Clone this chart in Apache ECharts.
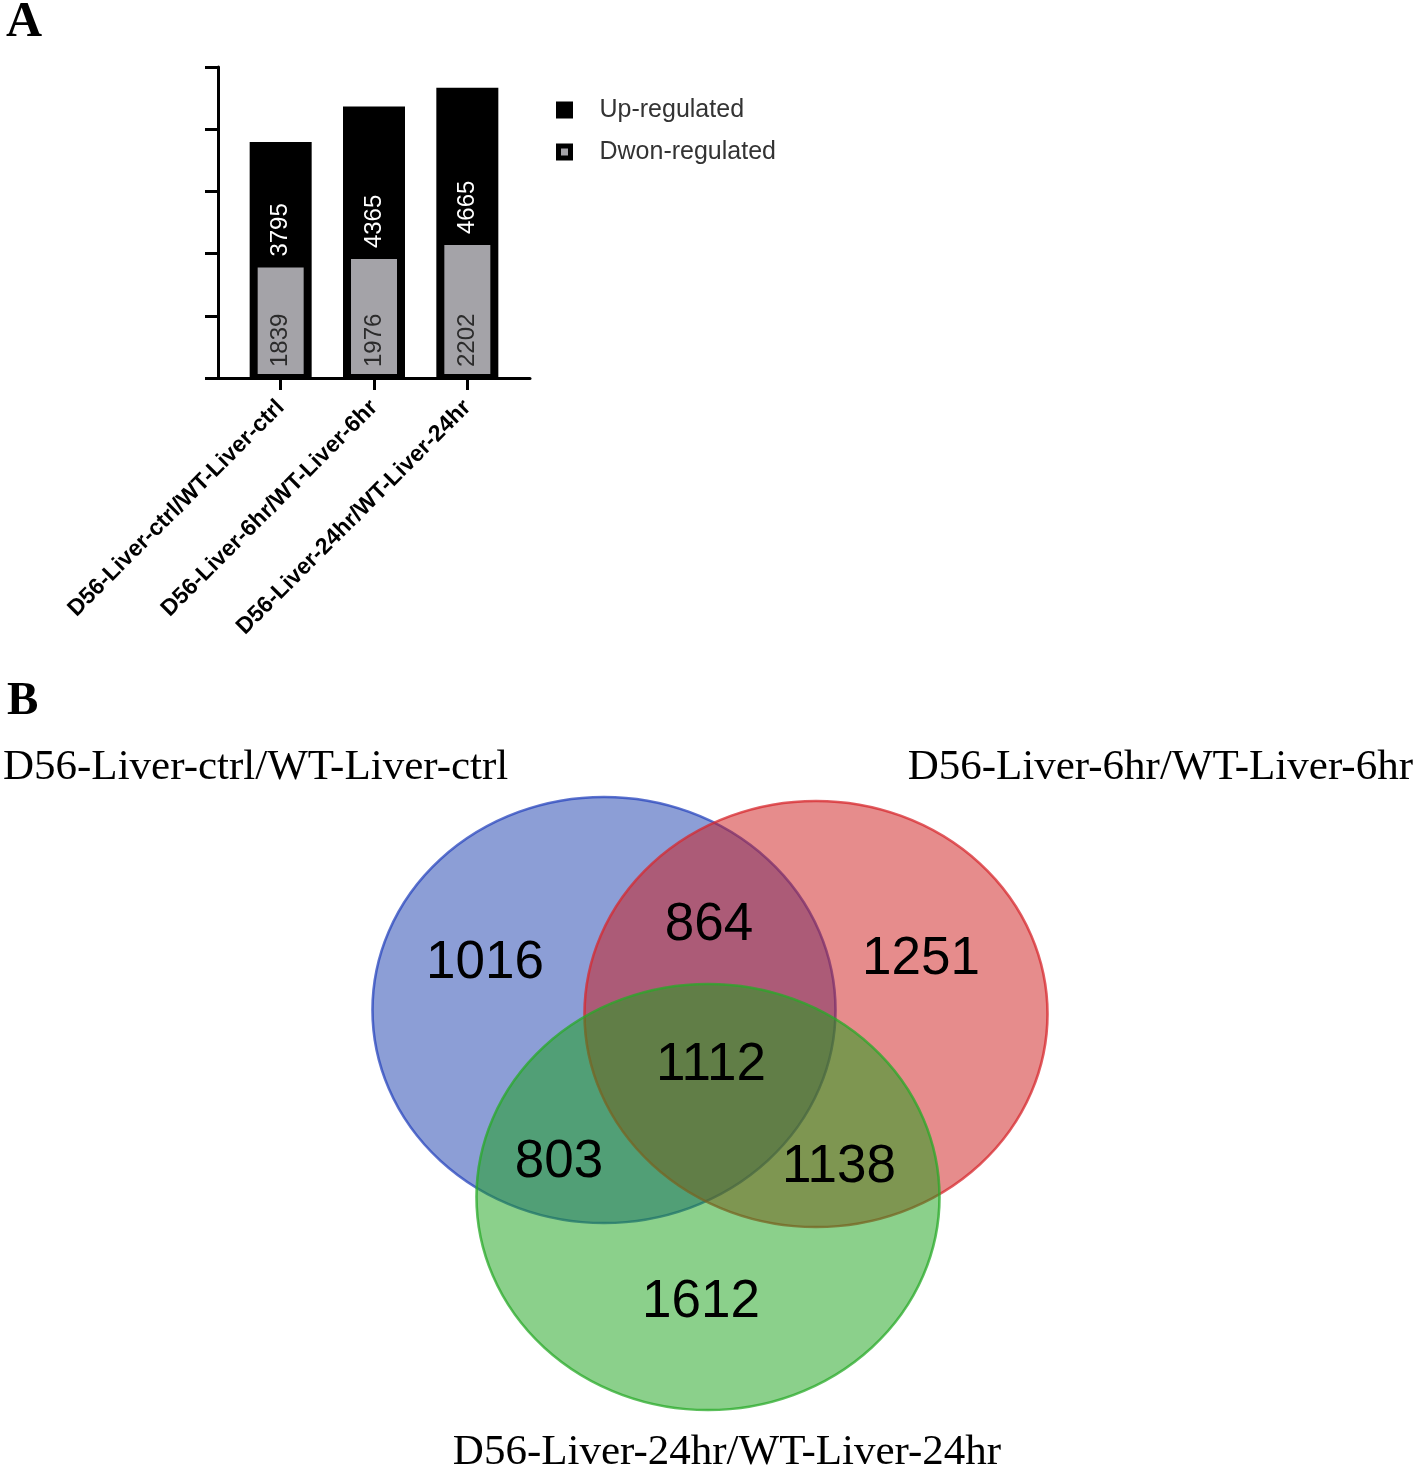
<!DOCTYPE html>
<html>
<head>
<meta charset="utf-8">
<script src="https://cdn.jsdelivr.net/npm/echarts@6/dist/echarts.min.js"></script>
<style>
html,body{margin:0;padding:0;background:#fff;}
#chart{width:1418px;height:1470px;}
</style>
</head>
<body>
<div id="chart"></div>
<script>
// ---------- Panel A data ----------
const categories = ['D56-Liver-ctrl/WT-Liver-ctrl', 'D56-Liver-6hr/WT-Liver-6hr', 'D56-Liver-24hr/WT-Liver-24hr'];
const upRegulated = [3795, 4365, 4665];
const downRegulated = [1839, 1976, 2202];
const seriesNames = ['Up-regulated', 'Dwon-regulated'];
const yMax = 5000;
const yInterval = 1000;

// ---------- Panel B data ----------
const vennSetNames = ['D56-Liver-ctrl/WT-Liver-ctrl', 'D56-Liver-6hr/WT-Liver-6hr', 'D56-Liver-24hr/WT-Liver-24hr'];
const vennRegionKeys = ['ctrl', '6hr', '24hr', 'ctrl&6hr', 'ctrl&24hr', '6hr&24hr', 'all'];
const vennRegionCounts = [1016, 1251, 1612, 864, 803, 1138, 1112];

// ---------- Venn layout (geometry, in page units) ----------
const vennCircleCenters = [[604, 1010], [816, 1014], [708, 1197]];
const vennCircleSize = [463, 426];
const vennLabelAnchors = [[485, 963], [921, 959], [701, 1302], [709, 925], [559, 1162], [839, 1167], [711, 1065]];
const vennFills = ['rgba(25,61,173,0.5)', 'rgba(205,25,25,0.5)', 'rgba(23,161,23,0.5)'];
const vennStrokes = ['rgba(40,70,190,0.75)', 'rgba(215,40,45,0.75)', 'rgba(40,170,40,0.75)'];

const SANS = '"Liberation Sans", Arial, sans-serif';
const SERIF = '"Liberation Serif", "Times New Roman", serif';

const chart = echarts.init(document.getElementById('chart'), null, {renderer: 'canvas'});

const circleSeries = vennCircleCenters.map((c, i) => ({
  type: 'scatter',
  name: vennSetNames[i],
  xAxisIndex: 2, yAxisIndex: 2,
  silent: true,
  symbol: 'circle',
  symbolSize: vennCircleSize,
  data: [c],
  itemStyle: {color: vennFills[i], borderColor: vennStrokes[i], borderWidth: 2.5, opacity: 1},
  emphasis: {disabled: true},
  z: 2 + i
}));

const option = {
  animation: false,
  textStyle: {fontFamily: SANS},
  grid: [
    {left: 234, top: 67, width: 280, height: 311, outerBoundsMode: 'none', containLabel: false},
    {left: 218, top: 67, width: 312, height: 311, outerBoundsMode: 'none', containLabel: false},
    {left: 0, top: 0, width: 1418, height: 1470, outerBoundsMode: 'none', containLabel: false}
  ],
  legend: {
    orient: 'vertical',
    left: 551, top: 92,
    icon: 'rect',
    itemWidth: 12, itemHeight: 12,
    itemGap: 16,
    selectedMode: false,
    textStyle: {fontSize: 25, color: '#333', fontFamily: SANS, lineHeight: 26, padding: [0, 0, 0, 24]},
    data: [
      {name: seriesNames[0], itemStyle: {color: '#000', borderColor: '#000', borderWidth: 5}},
      {name: seriesNames[1], itemStyle: {color: '#a4a3a8', borderColor: '#000', borderWidth: 5}}
    ]
  },
  xAxis: [
    {
      gridIndex: 0, type: 'category', data: categories,
      axisLine: {show: true, lineStyle: {color: '#000', width: 3}},
      axisTick: {show: true, alignWithLabel: true, length: 12, lineStyle: {color: '#000', width: 3}},
      axisLabel: {rotate: 45, interval: 0, fontSize: 23, fontWeight: 'bold', color: '#000', margin: 26, fontFamily: SANS},
      splitLine: {show: false}
    },
    {
      gridIndex: 1, type: 'value', min: 0, max: 1,
      axisLine: {show: true, lineStyle: {color: '#000', width: 3}},
      axisTick: {show: false}, axisLabel: {show: false}, splitLine: {show: false}
    },
    {gridIndex: 2, type: 'value', min: 0, max: 1418, show: false},
    {gridIndex: 0, type: 'category', data: categories, show: false}
  ],
  yAxis: [
    {gridIndex: 0, type: 'value', min: 0, max: yMax, interval: yInterval, show: false},
    {
      gridIndex: 1, type: 'value', min: 0, max: yMax, interval: yInterval,
      axisLine: {show: true, lineStyle: {color: '#000', width: 3}},
      axisTick: {show: true, length: 13, lineStyle: {color: '#000', width: 3}},
      axisLabel: {show: false}, splitLine: {show: false}
    },
    {gridIndex: 2, type: 'value', min: 0, max: 1470, inverse: true, show: false}
  ],
  graphic: [
    {type: 'text', left: 6, top: -2, style: {text: 'A', font: 'bold 50px ' + SERIF, fill: '#000'}},
    {type: 'text', left: 7, top: 678, style: {text: 'B', font: 'bold 47px ' + SERIF, fill: '#000'}},
    {type: 'text', x: 3, y: 768, style: {text: vennSetNames[0], font: '43px ' + SERIF, fill: '#000', textVerticalAlign: 'middle', textAlign: 'left'}},
    {type: 'text', x: 1413, y: 768, style: {text: vennSetNames[1], font: '43px ' + SERIF, fill: '#000', textVerticalAlign: 'middle', textAlign: 'right'}},
    {type: 'text', x: 727, y: 1453, style: {text: vennSetNames[2], font: '43px ' + SERIF, fill: '#000', textVerticalAlign: 'middle', textAlign: 'center'}}
  ],
  series: [
    {
      name: seriesNames[0], type: 'bar', xAxisIndex: 0, yAxisIndex: 0,
      barWidth: 62, data: upRegulated,
      itemStyle: {color: '#000'},
      emphasis: {disabled: true}, silent: true
    },
    {
      name: seriesNames[1], type: 'bar', xAxisIndex: 3, yAxisIndex: 0,
      barWidth: 54, barGap: '-100%', data: downRegulated,
      itemStyle: {color: '#a4a3a8', borderColor: '#000', borderWidth: 4},
      label: {
        show: true, position: 'insideBottom', distance: 11, rotate: 90,
        align: 'left', verticalAlign: 'middle',
        fontSize: 24, color: '#2b2b2b', fontFamily: SANS
      },
      emphasis: {disabled: true}, silent: true
    },
    {
      name: 'up-label', type: 'bar', xAxisIndex: 3, yAxisIndex: 0,
      barWidth: 54, barGap: '-100%', data: downRegulated,
      itemStyle: {color: 'rgba(0,0,0,0)'},
      label: {
        show: true, position: 'top', distance: 7, rotate: 90,
        align: 'left', verticalAlign: 'middle',
        fontSize: 24, color: '#fff', fontFamily: SANS,
        formatter: p => String(upRegulated[p.dataIndex])
      },
      emphasis: {disabled: true}, silent: true
    },
    ...circleSeries,
    {
      type: 'scatter', name: 'venn-counts', xAxisIndex: 2, yAxisIndex: 2,
      silent: true, symbolSize: 0,
      itemStyle: {opacity: 1},
      data: vennLabelAnchors.map((p, i) => ({value: p, count: vennRegionCounts[i], key: vennRegionKeys[i]})),
      label: {
        show: true, position: 'inside',
        formatter: p => String(vennRegionCounts[p.dataIndex]),
        fontSize: 53, color: '#000', opacity: 1, fontFamily: SANS
      },
      emphasis: {disabled: true},
      z: 10
    }
  ]
};
chart.setOption(option);
</script>
</body>
</html>
